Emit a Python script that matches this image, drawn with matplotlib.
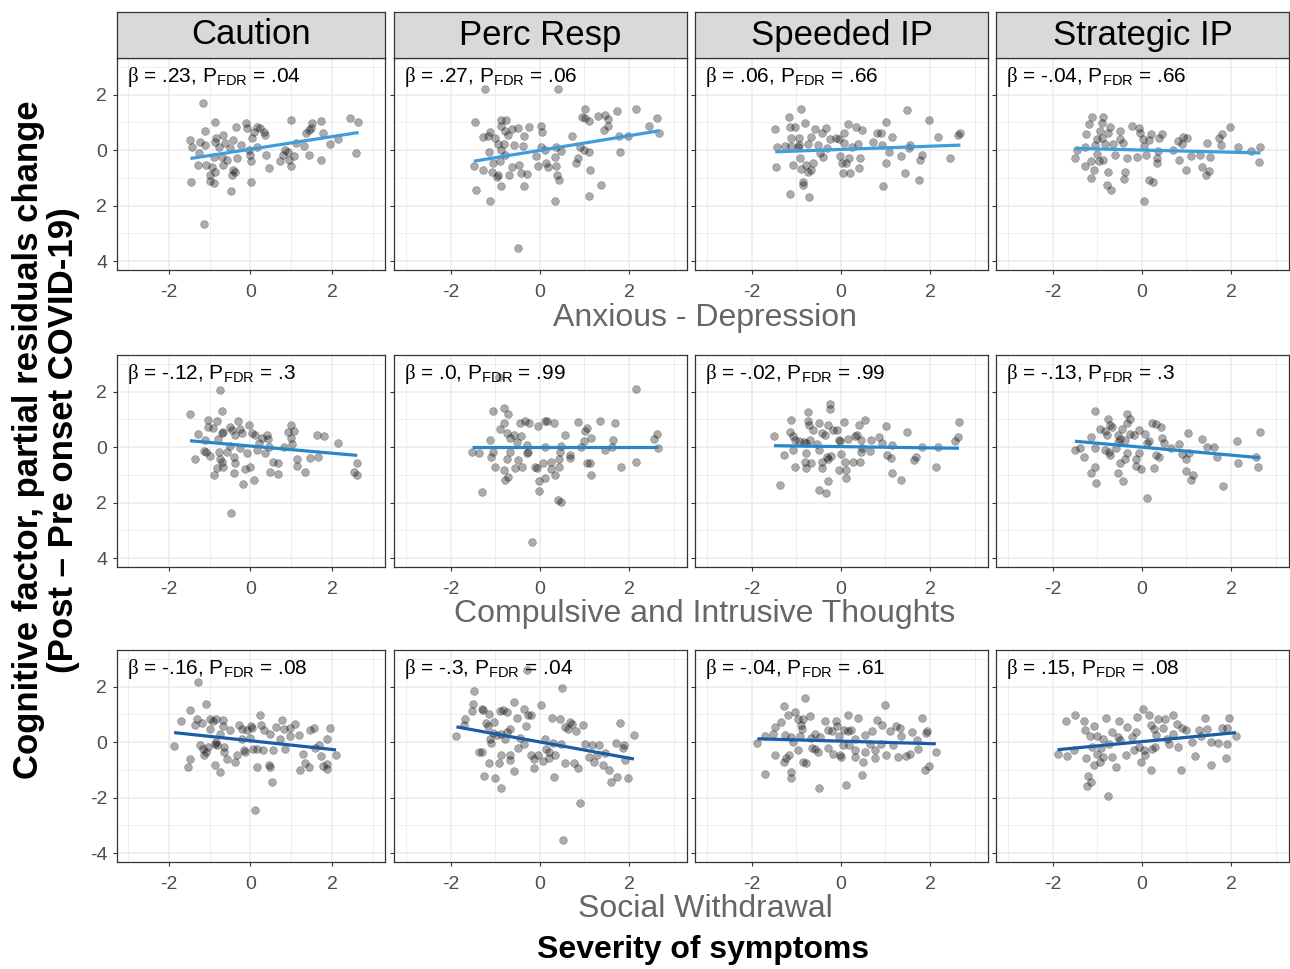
import numpy as np
import matplotlib.pyplot as plt

plt.rcParams['font.family'] = ['Liberation Sans', 'DejaVu Sans']
plt.rcParams['mathtext.fontset'] = 'custom'
plt.rcParams['mathtext.rm'] = 'Liberation Sans'
plt.rcParams['mathtext.sf'] = 'Liberation Serif'
plt.rcParams['axes.unicode_minus'] = False

# facets
factors = ['Caution', 'Perc Resp', 'Speeded IP', 'Strategic IP']
symptoms = ['Anxious - Depression', 'Compulsive and Intrusive Thoughts', 'Social Withdrawal']

# beta / P_FDR labels (row by row)
betas = ['.23', '.27', '.06', '-.04',
         '-.12', '.0', '-.02', '-.13',
         '-.16', '-.3', '-.04', '.15']
pvals = ['.04', '.06', '.66', '.66',
         '.3', '.99', '.99', '.3',
         '.08', '.04', '.61', '.08']

# fitted lines: slope, intercept
slopes = [0.227, 0.264, 0.058, -0.039,
          -0.129, 0.0, -0.022, -0.143,
          -0.157, -0.291, -0.045, 0.154]
intercepts = [0.033, -0.009, 0.025, 0.003,
              0.039, -0.01, 0.018, -0.002,
              0.05, 0.006, 0.036, 0.018]

# ---- Anxious - Depression ----
anx_caution_x = [-1.17, -1.14, -1.47, -1.43, -1.25, -1.28, -1.45, -1.11, -1.23, -1.11, -1.09, -1.0, -0.9, -0.86,
                 -0.84, -0.86, -0.78, -0.9, -0.95, -0.86, -0.99, -0.66, -0.62, -0.7, -0.67, -0.58, -0.49, -0.43,
                 -0.45, -0.43, -0.37, -0.48, -0.35, -0.33, -0.23, -0.1, -0.08, -0.04, -0.02, 0.02, 0.02, 0.04,
                 0.1, 0.16, 0.23, 0.33, 0.37, 0.15, 0.39, 0.46, 0.72, 0.81, 0.86, 0.91, 0.95, 0.99, 1.0, 1.07,
                 1.13, 1.32, 1.36, 1.44, 1.48, 1.52, 1.43, 1.74, 1.79, 1.73, 1.96, 2.14, 2.43, 2.65, 2.6]
anx_caution_y = [1.7, -2.67, 0.36, 0.12, -0.12, -0.55, -1.16, 0.7, 0.3, 0.18, -0.55, -1.13, -1.19, 1.03,
                 0.42, 0.3, 0.12, -0.24, -0.61, -0.79, -0.91, 0.55, 0.24, -0.24, -0.55, -0.36, 0.06, 0.36,
                 -0.91, -0.73, -0.79, -1.48, 0.85, -0.3, 0.18, 0.97, 0.79, 0.0, -0.18, -0.39, -1.15, 0.42,
                 0.67, 0.85, 0.79, 0.67, 0.55, 0.12, -0.18, -0.64, -0.39, -0.18, 0.0, -0.06, -0.36, -0.58, 1.09, -0.22,
                 0.27, 0.15, 0.61, 0.73, 0.79, 0.99, -0.18, 1.05, 0.63, -0.34, 0.21, 0.41, 1.15, 1.03, -0.1]

anx_perc_x = [-1.23, 0.4, -1.46, -0.48, -1.44, -1.12, 0.33, 1.1, 1.38, -1.48, -1.27, -1.27, -1.17, -1.11, -1.01,
              -1.14, -1.08, -1.05, -0.93, -0.95, -0.93, -0.89, -0.86, -0.76, -0.87, -0.77, -0.71, -0.63, -0.86,
              -0.8, -0.86, -0.78, -0.69, -0.63, -0.57, -0.5, -0.47, -0.42, -0.37, -0.35, -0.36, -0.29, -0.24,
              -0.05, -0.08, 0.03, 0.05, 0.03, 0.11, 0.14, 0.18, 0.36, 0.35, 0.37, 0.38, 0.42, 0.48, 0.72, 0.8,
              0.85, 0.9, 0.95, 1.01, 1.02, 1.11, 0.98, 1.1, 1.13, 1.3, 1.47, 1.53, 1.53, 1.44, 1.74, 1.77, 1.8,
              1.98, 2.16, 2.45, 2.62, 2.68]
anx_perc_y = [2.21, 2.21, 1.03, -3.52, -1.42, -1.85, -1.82, -1.67, -1.25, -0.58, -0.7, 0.48, 0.51, 0.67, 0.42,
              -0.06, -0.79, -0.46, 0.22, -0.97, -0.91, -0.39, 1.09, 1.09, 0.87, 0.7, 0.55, 0.75, -1.31,
              0.22, 0.02, -0.18, -0.91, -0.61, 0.18, 0.79, -0.55, -0.82, 0.15, 0.51, -1.3, -0.85, 0.82,
              -0.58, -0.22, 0.87, 0.67, 0.12, 0.02, -0.48, -0.61, 0.12, -0.24, -0.58, -0.91, -1.07, -0.04, 0.51, -0.46,
              -0.3, 0.12, 1.18, 1.49, 1.15, 1.05, 0.0, -0.06, -0.7, 1.24, 1.27, 1.12, 0.87, 0.73, 1.42, 0.51, -0.08,
              0.51, 1.48, 0.87, 1.15, 0.61]

anx_speed_x = [-0.9, -1.16, -1.47, -1.43, -1.45, -1.14, -1.02, -0.8, -1.11, -1.26, -1.11, -0.94, -0.93, -0.97,
               -0.92, -1.07, -0.89, -1.14, -0.84, -0.84, -0.71, -0.77, -0.74, -0.67, -0.62, -0.73, -0.67, -0.59,
               -0.52, -0.47, -0.43, -0.39, -0.34, -0.32, -0.24, -0.11, -0.05, -0.01, 0.02, 0.04, 0.06, 0.08,
               0.12, 0.16, 0.19, 0.2, 0.26, 0.34, 0.38, 0.44, 0.41, 0.47, 0.72, 0.81, 0.91, 0.92, 0.95, 1.02,
               1.02, 1.09, 1.14, 1.34, 1.45, 1.49, 1.53, 1.54, 1.75, 1.77, 1.81, 1.98, 2.17, 2.45, 2.63, 2.68]
anx_speed_y = [1.49, 1.19, 0.75, 0.12, -0.61, 0.85, 0.82, 0.97, 0.45, 0.15, 0.15, 0.45, 0.18, 0.12,
               -0.28, -0.55, -0.67, -1.58, -1.15, -1.27, -1.7, -0.55, -0.79, -0.73, -0.46, 0.22, 0.48, 0.75,
               0.18, -0.12, 0.61, -0.24, 0.79, 0.06, 0.39, 0.42, 0.39, -0.22, -0.46, -0.81, 0.27, 0.61,
               -0.46, 0.94, -0.3, -0.81, 0.12, 0.82, 0.21, -0.3, -0.64, 0.73, 0.3, 0.63, 0.63, 0.18, -1.31, 1.03,
               -0.48, -0.06, 0.48, -0.22, -0.82, 1.45, 0.06, 0.18, -1.07, -0.34, -0.16, 1.09, 0.46, -0.28, 0.55, 0.63]

anx_strat_x = [-1.11, -1.18, -1.25, -0.86, -0.89, -0.93, -0.72, -0.76, -1.01, -0.89, -1.05, -1.27, -1.46, -1.5,
               -1.14, -1.27, -1.08, -1.14, -1.01, -0.96, -0.86, -0.83, -0.76, -0.77, -0.69, -0.65, -0.61, -0.48,
               -0.48, -0.42, -0.37, -0.4, -0.33, -0.23, -0.07, -0.03, 0.02, 0.05, 0.1, -0.1, 0.05, 0.17, 0.25,
               0.2, 0.17, 0.37, 0.35, 0.35, 0.38, 0.46, 0.71, 0.8, 0.83, 0.91, 0.93, 1.02, 0.98, 1.1, 1.3, 1.36,
               1.44, 1.5, 1.47, 1.53, 1.74, 1.8, 1.77, 1.98, 2.15, 2.45, 2.66, 2.62]
anx_strat_y = [1.21, 0.93, 0.58, 1.18, 0.97, 0.7, 0.82, 0.61, 0.39, 0.42, 0.18, 0.1, 0.0, -0.27,
               -0.4, -0.58, -0.7, -1.01, -0.15, -0.39, -0.36, 0.22, -0.79, -1.25, -1.42, 0.22, -0.16, 0.7,
               0.39, 0.24, -0.79, -1.03, -0.3, 0.87, 0.79, 0.61, 0.39, 0.15, -0.16, -0.24, -1.84, -1.07, -1.16,
               0.58, 0.36, -0.02, -0.3, -0.48, 0.42, 0.58, 0.0, 0.34, -0.34, 0.22, 0.48, 0.42, -0.7, -0.22, -0.18, -0.61,
               -0.91, -0.76, 0.27, -0.24, 0.42, 0.58, 0.18, 0.85, 0.12, -0.02, 0.12, -0.44]

# ---- Compulsive and Intrusive Thoughts ----
cit_caution_x = [-0.74, -1.48, -0.7, -1.05, -0.82, -1.05, -0.91, -1.28, -1.11, -0.8, -0.66, -0.7, -0.49, -0.45,
                 -0.31, -0.26, -0.21, -0.37, -1.14, -1.09, -0.99, -0.78, -0.74, -0.7, -0.67, -0.82, -0.88, -1.37,
                 -0.58, -0.51, -0.41, -0.37, -0.4, -0.48, -0.25, -0.18, -0.12, -0.02, -0.08, -0.04, 0.04, 0.11,
                 0.1, 0.16, 0.21, 0.29, 0.4, 0.43, 0.45, 0.37, 0.48, 0.56, 0.67, 0.67, 0.82, 0.91, 0.99, 1.0,
                 1.07, 1.03, 1.14, 1.14, 1.34, 1.47, 1.63, 1.81, 1.66, 2.14, 2.62, 2.55, 2.61]
cit_caution_y = [2.06, 1.18, 1.3, 0.96, 0.93, 0.73, 0.69, 0.47, 0.24, 0.29, 0.53, 0.51, 0.73, 0.61,
                 0.93, 0.65, 0.51, 0.45, -0.13, -0.19, -0.32, -0.16, -0.44, -0.52, -0.7, -0.76, -1.01, -0.44,
                 -0.19, 0.05, -0.34, -0.58, -0.92, -2.38, -0.04, -1.33, -0.8, -0.7, -0.22, 0.81, 0.51, 0.45,
                 -1.19, -0.1, 0.15, 0.33, 0.45, 0.29, 0.02, -0.22, -0.88, -0.52, -0.56, -0.97, 0.0, 0.53, 0.33, 0.78,
                 0.57, 0.12, -0.44, -0.67, -0.91, -0.4, 0.45, 0.39, -0.34, 0.15, -0.58, -0.88, -1.01]

cit_perc_x = [-0.91, 2.15, -1.06, -0.8, -0.72, -0.8, -0.89, -0.74, -0.67, -0.59, -0.52, -0.42, -0.44, -0.33,
              -0.24, -0.05, 0.11, 0.16, 0.32, 0.56, 0.85, 1.06, 1.01, 1.35, 1.68, 1.15, 0.98, 0.92, 1.47, 1.65,
              1.62, 2.63, 2.56, 2.66, 2.16, 1.81, 1.05, 1.13, 1.14, -1.51, -1.37, -1.11, -1.1, -1.05, -1.01,
              -1.29, -0.8, -0.77, -0.74, -0.67, -0.71, -0.55, -0.5, -0.39, -0.29, -0.26, -0.29, -0.17, -0.11,
              -0.07, -0.02, -0.02, 0.12, 0.07, 0.11, 0.26, 0.25, 0.33, 0.4, 0.47, 0.44, 0.44, 0.45, 0.48,
              0.67, 0.67]
cit_perc_y = [2.51, 2.08, 1.3, 1.42, 1.18, 0.87, 0.65, 0.51, 0.33, 0.45, 0.17, 0.39, 0.87, 0.93,
              0.87, 0.75, 0.93, 0.93, 0.87, 0.45, 0.91, 0.69, 0.57, 0.93, 0.87, 0.33, 0.21, 0.02, -0.12, 0.24,
              0.02, 0.47, 0.29, -0.04, -0.55, -0.7, -0.56, -0.56, -1.01, -0.19, -0.22, 0.24, -0.36, -0.19, -0.73,
              -1.61, -0.82, -1.19, -0.44, -0.16, -1.07, -0.76, -0.46, -0.7, -0.22, -0.18, 0.08, -3.43, -0.7,
              -0.76, -1.22, -1.58, -1.1, -0.58, 0.02, -0.52, -0.8, -1.01, -1.92, -1.98, -0.44, -0.73, -0.16, 0.05,
              -0.28, -0.38]

cit_speed_x = [-0.24, -0.24, -0.74, -1.11, -0.73, -0.71, -0.5, -0.29, 0.06, 0.4, 0.55, 1.02, 1.49, 2.65, 2.63,
               2.56, -1.5, -1.14, -1.07, -1.03, -0.94, -0.82, -0.77, -0.69, -0.62, -0.54, -0.43, -0.35, -0.17,
               -0.09, -0.05, -0.02, 0.17, 0.32, 0.36, 0.46, 0.68, 0.85, 0.92, 1.15, 1.83, 2.17, -1.28, -1.37,
               -1.07, -1.02, -0.77, -0.8, -0.77, -0.67, -0.5, -0.43, -0.43, -0.32, -0.28, -0.29, -0.5, -0.34,
               -0.22, -0.05, 0.01, 0.1, 0.12, 0.11, 0.27, 0.44, 0.46, 0.47, 0.66, 1.04, 1.13, 1.15, 1.35, 1.64,
               1.68, 2.14]
cit_speed_y = [1.54, 1.36, 1.26, 0.96, 0.93, 0.78, 0.87, 0.81, 0.91, 0.78, 0.99, 0.75, 0.55, 0.9, 0.35,
               0.21, 0.41, 0.53, 0.41, 0.27, 0.21, 0.17, 0.15, 0.24, 0.63, 0.12, 0.51, 0.45, 0.63,
               0.63, 0.24, 0.21, 0.29, 0.41, 0.45, 0.27, 0.24, 0.35, 0.15, 0.08, 0.02, 0.02, -0.3, -1.35,
               -0.1, -0.7, -0.22, -0.52, -0.74, -0.58, -0.12, -0.52, -0.76, -0.34, -0.44, -1.22, -1.53, -1.67,
               -0.32, -0.82, -0.24, -0.52, -0.82, -1.13, -0.52, -0.52, -0.16, -0.04, -0.13, -0.28, -0.38, -0.95, -1.19, -0.46,
               -0.34, -0.73]

cit_strat_x = [-1.06, -0.33, -0.76, -0.26, -0.71, -0.93, -0.82, -0.67, -0.44, -0.33, 0.22, 0.32, 0.44, -0.07,
               0.08, -1.14, -0.78, -0.53, -0.48, -0.38, -0.26, -0.18, -1.5, -1.38, -1.05, -0.82, -0.74, -0.71,
               -0.59, -0.53, -0.33, -0.38, -0.5, -1.29, -1.06, -1.14, -1.02, -0.53, -0.43, -0.14, -0.12, -0.02,
               -0.07, 0.11, 0.12, 0.17, 0.27, 0.31, 0.38, 0.46, 0.5, 0.65, 0.83, 0.91, 1.0, 1.04, 1.06, 0.98,
               1.14, 1.11, 1.34, 1.47, 1.62, 1.68, 1.81, 2.14, 2.15, 2.56, 2.64, 2.61]
cit_strat_y = [1.3, 1.21, 1.02, 1.02, 0.81, 0.65, 0.57, 0.73, 0.65, 0.87, 0.87, 0.85, 0.73, 0.61,
               0.47, 0.36, 0.45, 0.45, 0.29, 0.24, 0.47, 0.45, -0.1, -0.04, -0.04, -0.1, -0.16, -0.28,
               -0.04, 0.17, -0.22, -0.44, -0.56, -0.36, -0.7, -0.92, -1.28, -0.95, -1.22, -0.44, -0.67, -0.8,
               -0.22, -1.85, 0.15, 0.21, -0.76, -0.28, -0.34, 0.33, 0.15, -0.04, 0.11, -0.25, -0.44, 0.51, -0.22, -0.85,
               -1.01, -1.19, 0.29, 0.02, 0.02, -0.34, -1.39, 0.21, -0.58, -0.34, 0.53, -0.7]

# ---- Social Withdrawal ----
sw_caution_x = [-1.28, -1.09, -1.48, -1.69, -1.32, -1.36, -1.19, -1.0, -0.91, -0.99, -0.84, -0.67, -0.67, -0.51,
                -0.74, -0.29, -0.21, -0.08, 0.02, 0.04, 0.23, 0.25, 0.33, 0.49, 0.64, 0.77, 0.82, 0.97, 1.09,
                1.19, 0.97, 1.47, 1.55, 1.94, 1.89, 1.69, 2.1, 1.73, 1.88, 1.78, 1.88, 1.59, 1.44, 1.22, 1.29,
                1.33, -1.87, -1.47, -1.52, -1.23, -1.17, -1.14, -1.09, -1.05, -0.86, -0.84, -0.81, -0.64, -0.64,
                -0.58, -0.86, -0.74, -0.37, -0.33, -0.16, -0.12, -0.21, -0.02, 0.07, 0.16, 0.3, 0.15, 0.11, 0.46,
                0.48, 0.53, 0.56, 0.72, 0.86]
sw_caution_y = [2.18, 1.39, 1.15, 0.75, 0.85, 0.63, 0.7, 0.85, 0.75, 0.48, 0.82, 0.79, 0.58, 0.42,
                0.3, 0.63, 0.46, 0.45, 0.58, 0.51, 0.97, 0.63, 0.42, 0.3, 0.55, 0.79, 0.48, 0.22, 0.67,
                0.27, 0.51, 0.45, 0.51, 0.51, 0.12, -0.1, -0.46, -0.51, -0.79, -0.85, -0.97, -0.22, -0.91, -0.99, -0.42,
                -0.75, -0.15, -0.61, -0.88, -0.12, -0.24, -0.46, -0.36, -0.18, -0.06, 0.0, -0.12, -0.18, -0.34,
                -0.61, -0.82, -1.07, -0.7, -0.46, -0.3, -0.34, 0.12, 0.15, -0.24, -0.24, -0.27, -0.91, -2.45, -0.82,
                -0.91, -1.43, -0.3, 0.12, -0.24]

sw_perc_x = [-0.29, 0.5, -1.48, -1.5, -1.52, -1.68, -1.7, -1.87, -1.29, -1.27, -1.14, -0.89, -0.82, -0.74,
             -0.59, -0.52, -0.35, -0.26, -0.2, -0.3, 0.03, 0.27, 0.46, 0.68, 0.72, 0.56, 0.63, 0.8, 0.97,
             1.8, 2.11, -1.2, -1.17, -1.02, -1.05, -1.11, -1.09, -0.95, -0.87, -0.78, -0.67, -0.74, -1.37,
             -1.29, -1.14, -1.25, -1.0, -0.87, -0.92, -0.87, -0.67, -0.67, -0.57, -0.5, -0.44, -0.35, -0.2,
             -0.14, -0.12, -0.05, 0.08, 0.11, 0.14, 0.2, 0.21, 0.29, 0.35, 0.48, 0.32, 0.56, 0.76, 0.86, 0.89,
             0.53, 1.01, 1.16, 1.32, 1.1, 1.21, 1.29, 1.47, 1.41, 1.56, 1.59, 1.74, 1.97, 1.7, 1.89, 1.87, 1.92]
sw_perc_y = [2.61, 1.96, 1.85, 1.39, 1.12, 0.82, 0.63, 0.22, 1.21, 1.15, 1.03, 1.12, 1.15, 1.07,
             1.45, 0.88, 1.21, 0.97, 0.97, 0.58, 1.33, 0.87, 0.82, 0.73, 0.67, 0.55, 0.48, 0.39, 0.61,
             0.7, 0.27, 0.7, 0.58, 0.73, 0.34, 0.12, -0.02, 0.27, 0.3, 0.12, 0.46, 0.36, -0.34,
             -0.34, -0.76, -1.21, -1.31, -1.67, -0.75, -0.48, -0.46, -0.63, -1.03, -0.22, 0.15, -0.06, -0.48,
             -0.61, -0.95, -0.46, -0.67, 0.12, -0.24, -0.36, -0.58, -0.02, -0.48, -0.06, -1.25, -0.75, -0.76, -0.93, -2.21,
             -3.54, -0.06, -0.12, -0.1, -0.55, -0.73, -0.46, -0.39, -0.82, -0.99, -1.45, -1.27, -1.3, -0.04, -0.12, -0.22, -0.64]

sw_speed_x = [-0.8, 0.98, -1.27, -1.18, -1.02, -0.97, -0.84, -0.69, -0.89, -0.86, -1.34, -1.48, -1.52, -1.69,
              -1.87, -1.25, -1.12, -1.08, -0.92, -0.67, -0.58, -0.47, -0.35, -0.28, -0.2, -0.11, -0.09, -0.05,
              0.16, 0.06, 0.17, 0.23, 0.32, 0.38, 0.55, 0.7, 0.8, 0.92, 1.11, 1.24, 1.32, 1.36, 1.59, 1.71,
              1.81, 1.94, 1.9, 2.13, 1.98, 1.89, -1.48, -1.69, -1.27, -1.22, -1.16, -1.12, -1.11, -0.97, -0.84,
              -0.77, -0.65, -0.58, -0.52, -0.5, -0.29, -0.17, -0.02, 0.01, 0.04, 0.11, 0.19, 0.32, 0.31, 0.47,
              0.5, 0.55, 0.66, 0.77, 0.77, 0.89, 1.02, 1.17, 1.29, 1.47, 1.56, 1.74]
sw_speed_y = [1.58, 1.33, 1.31, 0.99, 1.09, 0.85, 0.85, 0.95, 0.61, 0.48, 0.73, 0.55, 0.3, 0.22,
              -0.02, 0.24, 0.18, 0.02, 0.22, 0.15, 0.3, 0.18, 0.75, 0.42, 0.39, 0.75, 0.58, 0.22,
              0.97, 0.42, 0.39, 0.42, 0.12, 0.87, 0.27, 0.39, 0.79, 0.63, 0.39, 0.58, 0.51, 0.22, 0.36, 0.06,
              0.87, 0.39, 0.34, -0.36, -0.87, -0.99, -0.46, -1.15, -0.7, -0.58, -0.48, -1.09, -1.31, -0.27, -0.7,
              -0.76, -0.22, -0.24, -0.36, -1.64, -0.22, -0.42, -0.46, -0.55, -0.12, -1.55, -0.12, -0.3, -0.55, -1.19,
              -0.7, -0.36, -0.06, -0.58, -0.28, -0.06, -0.46, -0.12, -0.55, -0.51, -0.42, -0.24]

sw_strat_x = [0.03, -1.71, -1.5, -1.29, -1.27, -1.08, -1.17, -1.0, -0.8, -0.68, -0.52, -0.53, -0.33, -0.13,
              -0.11, -0.22, 0.17, 0.2, 0.27, 0.31, 0.37, 0.47, 0.53, 0.71, 0.78, 0.89, 0.7, 0.98, 1.12, 1.29,
              1.47, 1.42, 1.32, 1.56, 1.7, 1.8, 1.92, 1.96, 1.91, 2.11, 1.89, 1.56, 1.2, 0.87, 0.8, 0.61,
              0.57, 0.29, 0.22, 0.2, 0.08, -0.01, 0.05, -0.07, -0.18, -0.35, -0.58, -0.66, -0.76, -0.87, -0.93,
              -1.0, -1.12, -1.08, -1.25, -1.2, -1.14, -1.23, -1.51, -1.68, -1.89, -0.91, -0.88, -0.74, -0.48]
sw_strat_y = [1.19, 0.75, 0.97, 0.75, 0.42, 0.58, 0.22, 0.22, 0.88, 0.36, 0.75, 0.18, 0.55, 0.36,
              0.91, 0.18, 0.97, 0.63, 0.48, 0.27, 0.85, 0.51, 0.85, 0.97, 0.67, 0.51, 0.3, 0.42, 0.0, 0.42,
              0.48, 0.87, 0.22, 0.0, -0.02, 0.51, 0.51, 0.87, -0.06, 0.22, -0.58, -0.81, -0.51, -1.01, -0.18, -0.06,
              0.12, -0.18, -0.24, -0.99, -0.48, -0.73, -0.3, -0.18, -0.3, -0.46, -0.91, -0.55, -1.94, -0.55, -0.73,
              -0.42, -0.18, -0.82, -0.58, -1.21, -1.43, -1.58, -0.27, -0.51, -0.42, -0.22, 0.1, -0.06, 0.06]

panel_x = [anx_caution_x, anx_perc_x, anx_speed_x, anx_strat_x,
           cit_caution_x, cit_perc_x, cit_speed_x, cit_strat_x,
           sw_caution_x, sw_perc_x, sw_speed_x, sw_strat_x]
panel_y = [anx_caution_y, anx_perc_y, anx_speed_y, anx_strat_y,
           cit_caution_y, cit_perc_y, cit_speed_y, cit_strat_y,
           sw_caution_y, sw_perc_y, sw_speed_y, sw_strat_y]

row_line_colors = ['#3f9ddb', '#2a86c8', '#1a5ca6']
y_ticklabels = [['4', '2', '0', '2'], ['4', '2', '0', '2'], ['-4', '-2', '0', '2']]

W, H = 1290, 969
fig = plt.figure(figsize=(W / 100, H / 100), dpi=100)

col_edges = [(117, 385), (394, 687), (695, 988), (996, 1289)]
row_tops = [58, 355, 650]
ph = 212


def frac(left, top, right, bottom):
    return [left / W, 1 - bottom / H, (right - left) / W, (bottom - top) / H]


for r in range(3):
    for c in range(4):
        k = r * 4 + c
        l, rr = col_edges[c]
        t = row_tops[r]
        ax = fig.add_axes(frac(l, t, rr, t + ph))
        ax.set_xlim(-3.27, 3.3)
        ax.set_ylim(-4.32, 3.32)
        ax.set_xticks([-3, -1, 1, 3], minor=True)
        ax.set_yticks([-3, -1, 1, 3], minor=True)
        ax.set_xticks([-2, 0, 2])
        ax.set_xticklabels(['-2', '0', '2'])
        ax.set_yticks([-4, -2, 0, 2])
        if c == 0:
            ax.set_yticklabels(y_ticklabels[r])
        else:
            ax.set_yticklabels([])
        ax.grid(True, which='major', color='#ebebeb', lw=1.1, zorder=0)
        ax.grid(True, which='minor', color='#ebebeb', lw=0.6, zorder=0)
        ax.set_axisbelow(True)
        ax.tick_params(which='major', length=3, width=0.8, color='#333333',
                       labelsize=14, labelcolor='#4d4d4d')
        ax.tick_params(axis='x', which='major', pad=7)
        ax.tick_params(axis='y', which='major', pad=4)
        ax.tick_params(which='minor', length=0)
        for s in ax.spines.values():
            s.set_color('#333333')
            s.set_linewidth(0.9)

        xs = np.array(panel_x[k])
        ys = np.array(panel_y[k])
        ax.scatter(xs, ys, s=32, color='black', alpha=0.33, edgecolors='black',
                   linewidths=0.4, zorder=2)
        lx = np.array([xs.min(), xs.max()])
        ax.plot(lx, intercepts[k] + slopes[k] * lx, color=row_line_colors[r], lw=2.3,
                solid_capstyle='butt', zorder=3)

        ax.annotate(f"$\\mathsf{{\\beta}}$ = {betas[k]}, P$_{{\\mathrm{{FDR}}}}$ = {pvals[k]}",
                    xy=(0, 1), xycoords='axes fraction', xytext=(7, -5),
                    textcoords='offset points', ha='left', va='top', fontsize=15)

        if r == 0:
            sax = fig.add_axes(frac(l, 12, rr, t))
            sax.set_facecolor('#d9d9d9')
            sax.set_xticks([])
            sax.set_yticks([])
            for s in sax.spines.values():
                s.set_color('#333333')
                s.set_linewidth(0.9)
            sax.text(0.5, 0.5, factors[c], ha='center', va='center', fontsize=25,
                     transform=sax.transAxes)

# row titles
for r, (name, yc) in enumerate(zip(symptoms, [318, 614, 909])):
    fig.text(705 / W, 1 - yc / H, name, ha='center', va='center', fontsize=23, color='#666666')

fig.text(703 / W, 1 - 950 / H, 'Severity of symptoms', ha='center', va='center',
         fontsize=23, fontweight='bold')
fig.text(46 / W, 1 - 440 / H, 'Cognitive factor, partial residuals change\n(Post \u2013 Pre onset COVID-19)',
         ha='center', va='center', rotation=90, fontsize=25, fontweight='bold',
         multialignment='center', linespacing=1.05)

fig.savefig('out.png', dpi=100)
